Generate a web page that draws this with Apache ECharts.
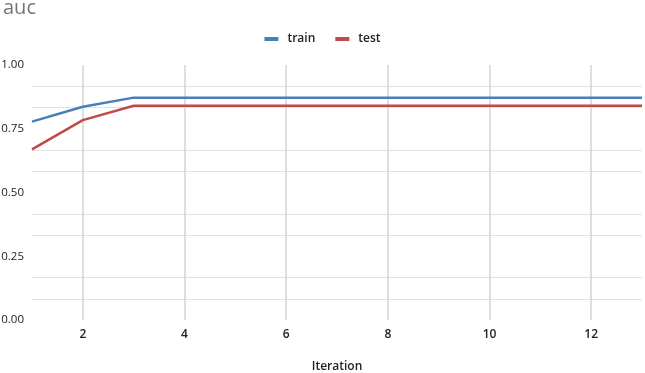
<!DOCTYPE html>
<html><head><meta charset="utf-8">
<script src="https://cdn.jsdelivr.net/npm/echarts@6/dist/echarts.min.js"></script>
<style>html,body{margin:0;padding:0;background:#fff}#c{width:645px;height:373px}</style>
</head><body><div id="c"></div>
<script>
var iterations = ['1','2','3','4','5','6','7','8','9','10','11','12','13'];
var train = [0.778, 0.836, 0.872, 0.872, 0.872, 0.872, 0.872, 0.872, 0.872, 0.872, 0.872, 0.872, 0.872];
var test  = [0.669, 0.784, 0.840, 0.840, 0.840, 0.840, 0.840, 0.840, 0.840, 0.840, 0.840, 0.840, 0.840];
var yTicks = [0, 0.25, 0.5, 0.75, 1];

var chart = echarts.init(document.getElementById('c'));
var font = '"Open Sans", sans-serif';
chart.setOption({
  animation: false,
  textStyle: {fontFamily: font},
  title: {text: 'auc', left: -2, top: -7, textStyle: {fontFamily: font, fontSize: 20, fontWeight: 'normal', color: '#757575'}},
  legend: {
    top: 28, left: 'center', icon: 'rect', itemWidth: 14, itemHeight: 4, itemGap: 20,
    textStyle: {fontFamily: font, fontSize: 12, fontWeight: 600, color: '#222', padding: [0, 0, 0, 4]},
    data: ['train', 'test']
  },
  grid: {left: 32, right: 3, top: 65, bottom: 53, containLabel: false, outerBoundsMode: 'none'},
  xAxis: {
    type: 'category', data: iterations, boundaryGap: false,
    name: 'Iteration', nameLocation: 'middle', nameGap: 41,
    nameTextStyle: {fontFamily: font, fontSize: 12, fontWeight: 600, color: '#222'},
    axisLine: {show: false}, axisTick: {show: false},
    axisLabel: {interval: function(i){return i % 2 === 1;}, margin: 9, fontSize: 12, fontWeight: 600, color: '#222'},
    splitLine: {show: true, interval: function(i){return i % 2 === 1;}, lineStyle: {color: '#d4d4d4', width: 1.5}}
  },
  yAxis: {
    type: 'value', min: yTicks[0], max: yTicks[yTicks.length-1], interval: 0.25,
    axisLine: {show: false}, axisTick: {show: false},
    axisLabel: {formatter: function(v){return v.toFixed(2);}, margin: 8, fontSize: 11.5, color: '#222'},
    splitLine: {show: false},
    minorTick: {show: false, splitNumber: 3},
    minorSplitLine: {show: true, lineStyle: {color: '#e2e2e2', width: 1}}
  },
  series: [
    {name: 'train', type: 'line', data: train, showSymbol: false, symbol: 'none', lineStyle: {color: '#4a7ebb', width: 2.5}, itemStyle: {color: '#4a7ebb'}},
    {name: 'test', type: 'line', data: test, showSymbol: false, symbol: 'none', lineStyle: {color: '#be4b48', width: 2.5}, itemStyle: {color: '#be4b48'}}
  ]
});
</script></body></html>
